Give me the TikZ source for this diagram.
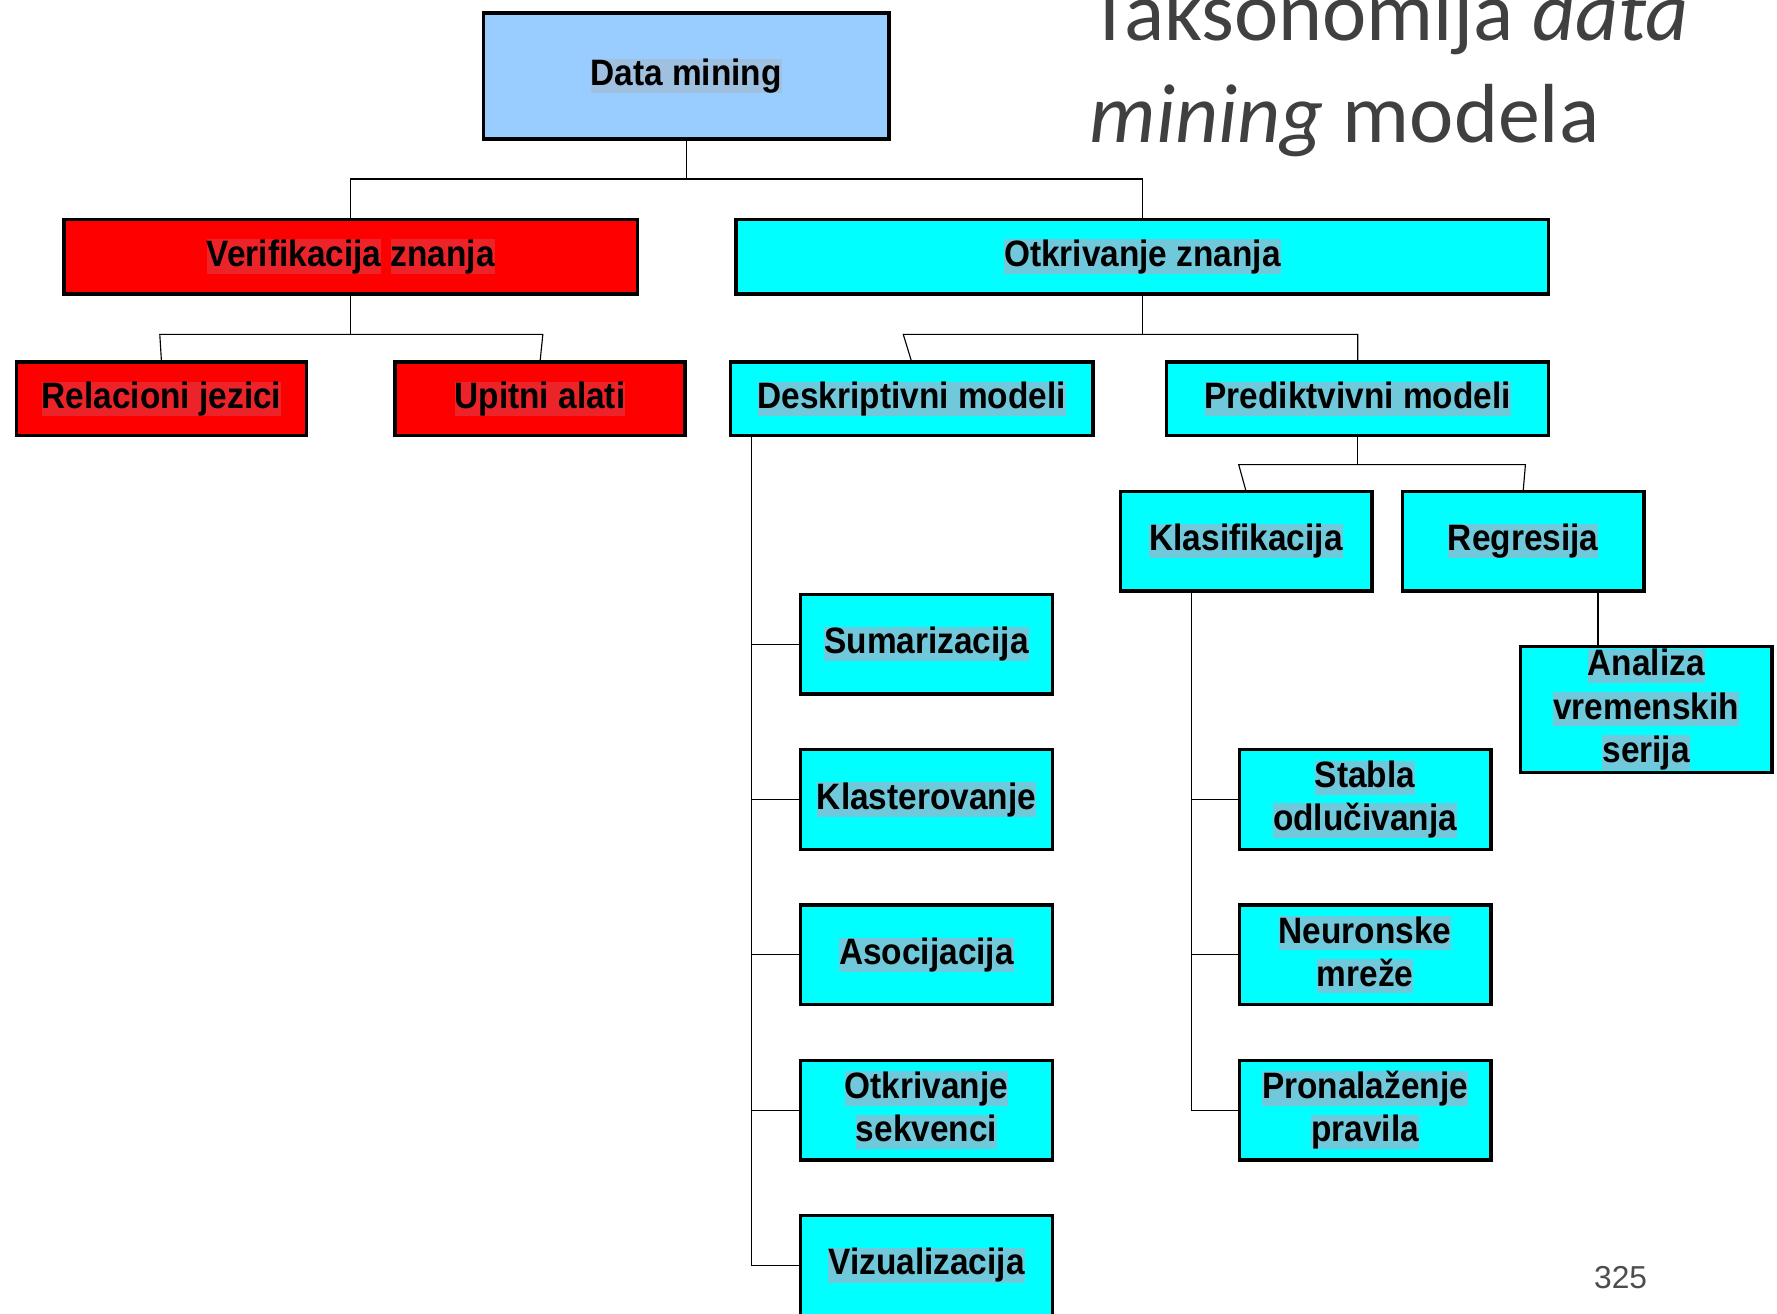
\documentclass[tikz,border=0pt]{standalone}
\usepackage{fontspec}
\setmainfont{Liberation Sans}
\newfontfamily\boxfont{Liberation Sans}[FakeStretch=0.91]
\newfontfamily\titlefont{Carlito}
\definecolor{dmblue}{HTML}{99CCFF}
\definecolor{dmbluehl}{HTML}{A0C0E0}
\definecolor{vred}{HTML}{FF0000}
\definecolor{vredhl}{HTML}{EC2329}
\definecolor{ocyan}{HTML}{00FFFF}
\definecolor{ocyanhl}{HTML}{6FC9DB}
\definecolor{titlegray}{HTML}{404040}
\definecolor{pagegray}{HTML}{4D4D4D}
\newcommand{\hl}[2][ocyanhl]{{\setlength{\fboxsep}{0pt}\colorbox{#1}{\rule[-0.2em]{0pt}{0.93em}#2}}}
\tikzset{
  box/.style={draw, line width=3pt, inner sep=0pt, outer sep=0pt, align=center,
    font=\boxfont\fontsize{32.4}{38}\selectfont\bfseries},
  bluebox/.style={box, fill=dmblue},
  redbox/.style={box, fill=vred},
  cyanbox/.style={box, fill=ocyan},
  leaf/.style={cyanbox, minimum width=222, minimum height=88},
  link/.style={line width=1pt}
}

\begin{document}
\begin{tikzpicture}[x=1pt,y=-1pt]
\useasboundingbox (0,0) rectangle (1568,1159);

\node[anchor=base west, align=left, text=titlegray, font=\titlefont\fontsize{74}{90}\selectfont]
  (title) at (958,126) {Taksonomija \textit{data}\\\textit{mining} modela};

\node[bluebox, minimum width=358, minimum height=111] (dm) at (605.5,67) {\hl[dmbluehl]{Data mining}};
\node[redbox, minimum width=506, minimum height=66] (ver) at (309.5,226.5) {\hl[vredhl]{Verifikacija} \hl[vredhl]{znanja}};
\node[cyanbox, minimum width=717, minimum height=66] (otk) at (1008,226.5) {\hl{Otkrivanje znanja}};
\node[redbox, minimum width=256, minimum height=65] (rel) at (142.5,352) {\hl[vredhl]{Relacioni jezici}};
\node[redbox, minimum width=256, minimum height=65] (upi) at (476.5,352) {\hl[vredhl]{Upitni alati}};
\node[cyanbox, minimum width=320, minimum height=65] (des) at (804.5,352) {\hl{Deskriptivni modeli}};
\node[cyanbox, minimum width=337, minimum height=65] (pre) at (1198,352) {\hl{Prediktvivni modeli}};
\node[leaf] (kla) at (1099.5,477.5) {\hl{Klasifikacija}};
\node[leaf, minimum width=213] (reg) at (1344,477.5) {\hl{Regresija}};
\node[leaf] (sum) at (817.5,568.5) {\hl{Sumarizacija}};
\node[leaf] (klt) at (817.5,705.5) {\hl{Klasterovanje}};
\node[leaf] (aso) at (817.5,842.5) {\hl{Asocijacija}};
\node[leaf] (seq) at (817.5,979.5) {\hl{Otkrivanje}\\\hl{sekvenci}};
\node[leaf] (viz) at (817.5,1116.5) {\hl{Vizualizacija}};
\node[leaf, minimum height=111] (ana) at (1452.5,626) {\hl{Analiza}\\\hl{vremenskih}\\\hl{serija}};
\node[leaf] (sta) at (1204.5,705.5) {\hl{Stabla}\\\hl{odlučivanja}};
\node[leaf] (neu) at (1204.5,842.5) {\hl{Neuronske}\\\hl{mreže}};
\node[leaf] (pro) at (1204.5,979.5) {\hl{Pronalaženje}\\\hl{pravila}};

\coordinate (j1) at (605.5,158);
\draw[link] (dm) -- (j1);
\draw[link] (ver) |- (j1) -| (otk);

\coordinate (j2) at (309.5,295);
\coordinate (j2l) at (141,295);
\coordinate (j2r) at (479,295);
\draw[link] (ver) -- (j2);
\draw[link] (rel.north) -- (j2l) -- (j2r) -- (upi.north);

\coordinate (j3) at (1008,295);
\coordinate (j3l) at (797,295);
\draw[link] (otk) -- (j3);
\draw[link] (des.north) -- (j3l) -| (pre);

\coordinate (j4) at (1198,410);
\coordinate (j4l) at (1093,410);
\coordinate (j4r) at (1346,410);
\draw[link] (pre) -- (j4);
\draw[link] (kla.north) -- (j4l) -- (j4r) -- (reg.north);

\coordinate (t1) at (663,386);
\draw[link] (t1) |- (viz.west);
\foreach \n in {sum,klt,aso,seq}
  \draw[link] (t1 |- \n.west) -- (\n.west);

\coordinate (t2) at (1051,523);
\draw[link] (t2) |- (pro.west);
\foreach \n in {sta,neu}
  \draw[link] (t2 |- \n.west) -- (\n.west);

\coordinate (t3) at (1410,523);
\draw[link] (t3) -- (t3 |- ana.north);

\node[text=pagegray, font=\fontsize{28}{34}\selectfont] (pg) at (1430,1127) {325};
\end{tikzpicture}
\end{document}
